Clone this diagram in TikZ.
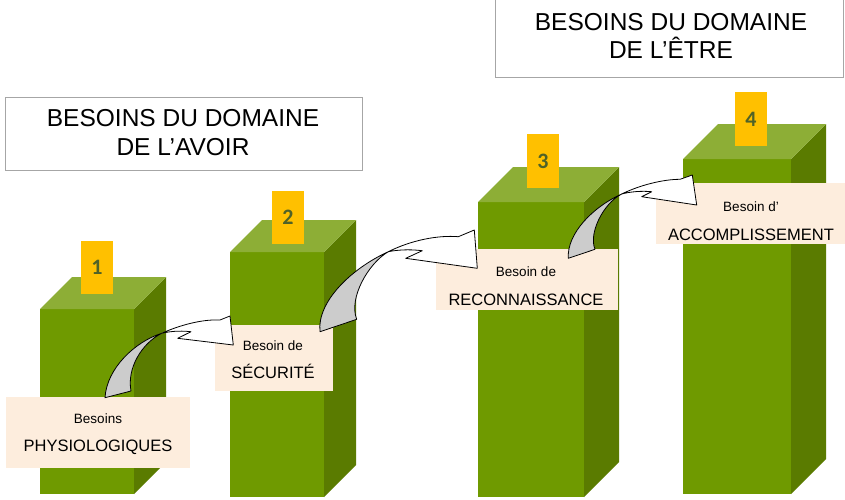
\documentclass[tikz,border=0pt]{standalone}
\usepackage{fontspec}
\setmainfont{Liberation Sans}
\newfontfamily\numfont{Carlito}
\definecolor{frontgreen}{HTML}{6F9A00}
\definecolor{sidegreen}{HTML}{5A7B00}
\definecolor{topgreen}{HTML}{8DAE36}
\definecolor{numbg}{HTML}{FFC000}
\definecolor{numfg}{HTML}{4F6228}
\definecolor{labelbg}{HTML}{FDEDDD}
\definecolor{titleline}{HTML}{A6A6A6}
\definecolor{ribbongray}{HTML}{CCCCCC}
\tikzset{
  front/.style={fill=frontgreen},
  side/.style={fill=sidegreen},
  topface/.style={fill=topgreen},
  numbox/.style={fill=numbg, minimum width=32pt, minimum height=53pt, inner sep=0pt,
    font=\numfont\bfseries\fontsize{22}{22}\selectfont, text=numfg},
  labelbox/.style={fill=labelbg, inner sep=0pt},
  titlebox/.style={draw=titleline, line width=0.9pt, fill=white, inner sep=0pt},
  titletext/.style={anchor=base, inner sep=0pt, font=\fontsize{24.5}{28}\selectfont},
  smalltext/.style={anchor=base, inner sep=0pt, font=\fontsize{13.5}{16}\selectfont},
  bigtext/.style={anchor=base, inner sep=0pt, font=\fontsize{16.5}{19}\selectfont},
  ribbon/.style={fill=ribbongray, draw=black, line width=0.8pt, line join=round},
  shaft/.style={fill=white, draw=black, line width=0.8pt, line join=round}
}
\begin{document}
\begin{tikzpicture}[x=1pt,y=-1pt]
\useasboundingbox (0,0) rectangle (845,499);
\fill[white] (0,0) rectangle (845,499);

% title boxes
\node[titlebox, minimum width=357pt, minimum height=73pt] (t1box) at (183.5,133.5) {};
\node[titletext] (t1a) at (183,126.5) {BESOINS DU DOMAINE};
\node[titletext] (t1b) at (183,155.5) {DE L’AVOIR};
\node[titlebox, minimum width=348pt, minimum height=80pt] (t2box) at (669,37) {};
\node[titletext] (t2a) at (671,30.5) {BESOINS DU DOMAINE};
\node[titletext] (t2b) at (671,58.5) {DE L’ÊTRE};

% pillar 1
\fill[front] (40,309) rectangle (134,494);
\fill[side] (134,309) -- (166,277) -- (166,462) -- (134,494) -- cycle;
\fill[topface] (40,309) -- (72,277) -- (166,277) -- (134,309) -- cycle;
% pillar 2
\fill[front] (230,252) rectangle (324,497);
\fill[side] (324,252) -- (356,220) -- (356,465) -- (324,497) -- cycle;
\fill[topface] (230,252) -- (262,220) -- (356,220) -- (324,252) -- cycle;
% pillar 3
\fill[front] (478,202) rectangle (584,497);
\fill[side] (584,202) -- (619,167) -- (619,462) -- (584,497) -- cycle;
\fill[topface] (478,202) -- (513,167) -- (619,167) -- (584,202) -- cycle;
% pillar 4
\fill[front] (683,159) rectangle (791,494);
\fill[side] (791,159) -- (826,124) -- (826,459) -- (791,494) -- cycle;
\fill[topface] (683,159) -- (718,124) -- (826,124) -- (791,159) -- cycle;

% number boxes
\node[numbox] (n1) at (97,267.5) {1};
\node[numbox] (n2) at (288,217.5) {2};
\node[numbox, minimum height=54pt] (n3) at (543,161) {3};
\node[numbox, minimum height=54pt] (n4) at (751,119) {4};

% label boxes
\node[labelbox, minimum width=184pt, minimum height=71pt] (l1) at (98,432.5) {};
\node[smalltext] (l1a) at (98,423.3) {Besoins};
\node[bigtext] (l1b) at (98,451.7) {PHYSIOLOGIQUES};
\node[labelbox, minimum width=118pt, minimum height=66pt] (l2) at (274,358) {};
\node[smalltext] (l2a) at (273,350) {Besoin de};
\node[bigtext] (l2b) at (273,378.3) {SÉCURITÉ};
\node[labelbox, minimum width=182pt, minimum height=61pt] (l3) at (527,279.5) {};
\node[smalltext] (l3a) at (526,276) {Besoin de};
\node[bigtext] (l3b) at (526,305) {RECONNAISSANCE};
\node[labelbox, minimum width=189pt, minimum height=61pt] (l4) at (750.5,213.5) {};
\node[smalltext] (l4a) at (751,211) {Besoin d’};
\node[bigtext] (l4b) at (751,240.7) {ACCOMPLISSEMENT};

% curved arrow 1
\coordinate (a1o) at (105,397.7);
\coordinate (a1i) at (131,391);
\coordinate (a1t) at (161.7,333.3);
\draw[ribbon] (a1o) .. controls (106.7,368.3) and (135,341.7) .. (a1t)
  .. controls (141.7,343.3) and (126.7,368.3) .. (a1i) -- cycle;
\draw[shaft] (a1t) .. controls (178.3,325.7) and (201.7,319) .. (220,320)
  -- (230,316) -- (233.3,345) -- (177.7,338.3) -- (191,331.7)
  .. controls (178.3,330.3) and (168.3,331.7) .. (a1t) -- cycle;

% curved arrow 2
\coordinate (a2o) at (320,331.7);
\coordinate (a2i) at (356.7,319.3);
\coordinate (a2t) at (388.3,251.7);
\draw[ribbon] (a2o) .. controls (316.7,301.7) and (351.7,268.3) .. (a2t)
  .. controls (368.3,263.3) and (348.3,298.3) .. (a2i) -- cycle;
\draw[shaft] (a2t) .. controls (411.7,240) and (438.3,235) .. (458.3,236.7)
  -- (474.3,230) -- (477.3,268.3) -- (405.7,258.3) -- (422.3,250.7)
  .. controls (408.3,249) and (396.7,250) .. (a2t) -- cycle;

% curved arrow 3
\coordinate (a3o) at (568.3,258.3);
\coordinate (a3i) at (595,249.3);
\coordinate (a3t) at (621.7,194);
\draw[ribbon] (a3o) .. controls (566.7,233.3) and (593.3,206.7) .. (a3t)
  .. controls (603.3,203.3) and (588.3,233.3) .. (a3i) -- cycle;
\draw[shaft] (a3t) .. controls (640,185) and (663.3,179.3) .. (680,179.3)
  -- (692.3,175) -- (696.7,205) -- (641.7,196.7) -- (651.7,191.7)
  .. controls (641.7,190.7) and (630,191.7) .. (a3t) -- cycle;
\end{tikzpicture}
\end{document}
